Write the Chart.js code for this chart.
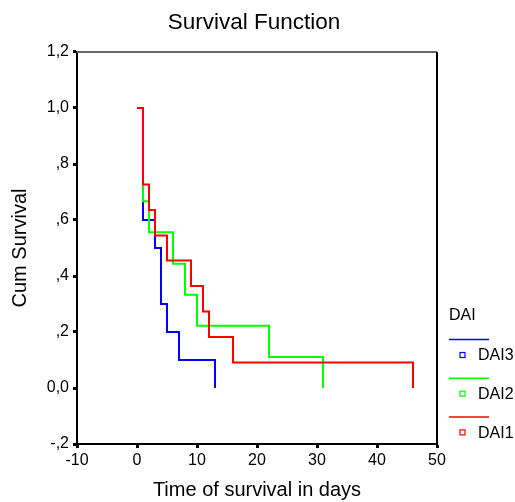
<!DOCTYPE html>
<html>
<head>
<meta charset="utf-8">
<script src="https://cdn.jsdelivr.net/npm/chart.js@4.4.1/dist/chart.umd.min.js"></script>
<style>
    body { margin: 0; background: #fff; }
</style>
</head>
<body>
<canvas id="myChart" width="515" height="502"></canvas>
<script>

// survival curves (time in days, cumulative survival)
var groupNames = ['DAI3', 'DAI2', 'DAI1'];
var groupColors = ['#0000ff', '#00ff00', '#ff0000'];

var timesDAI3 = [0, 1, 3, 4, 5, 7, 13];
var survDAI3 = [1, 0.6, 0.5, 0.3, 0.2, 0.1, 0];

var timesDAI2 = [0, 1, 2, 6, 8, 10, 22, 31];
var survDAI2 = [1, 0.667, 0.556, 0.444, 0.333, 0.222, 0.111, 0];

var timesDAI1 = [0, 1, 2, 3, 5, 9, 11, 12, 16, 46];
var survDAI1 = [1, 0.727, 0.636, 0.545, 0.455, 0.364, 0.273, 0.182, 0.091, 0];

var xTicks = [-10, 0, 10, 20, 30, 40, 50];
var yTicks = ['-,2', '0,0', ',2', ',4', ',6', ',8', '1,0', '1,2'];

function toPoints(times, surv) {
    var pts = [];
    for (var i = 0; i < times.length; i++) {
        pts.push({ x: times[i], y: surv[i] });
    }
    return pts;
}

function yLabel(value) {
    var idx = Math.round((value + 0.2) / 0.2);
    return yTicks[idx] !== undefined ? yTicks[idx] : '';
}

var framePlugin = {
    id: 'frame',
    afterDraw: function (chart) {
        var ctx = chart.ctx;
        var a = chart.chartArea;
        ctx.save();
        ctx.strokeStyle = '#666';
        ctx.lineWidth = 2;
        ctx.beginPath();
        ctx.moveTo(a.left, a.top);
        ctx.lineTo(a.right, a.top);
        ctx.stroke();
        ctx.strokeStyle = '#000';
        ctx.beginPath();
        ctx.moveTo(a.right, a.top);
        ctx.lineTo(a.right, a.bottom);
        ctx.stroke();

        // chart title
        ctx.fillStyle = '#000';
        ctx.font = '22.5px "Liberation Sans", Arial, sans-serif';
        ctx.textAlign = 'center';
        ctx.textBaseline = 'middle';
        ctx.fillText('Survival Function', 254, 23);

        // legend on the right
        var lx = a.right + 12;
        ctx.textAlign = 'left';
        ctx.font = '16px "Liberation Sans", Arial, sans-serif';
        ctx.fillText('DAI', lx, 316);
        for (var i = 0; i < groupNames.length; i++) {
            var ly = 339.5 + i * 38.7;
            ctx.strokeStyle = groupColors[i];
            ctx.lineWidth = 1.5;
            ctx.beginPath();
            ctx.moveTo(lx, ly);
            ctx.lineTo(lx + 40, ly);
            ctx.stroke();
            ctx.lineWidth = 1.2;
            ctx.strokeRect(lx + 11, ly + 13, 5, 5);
            ctx.fillStyle = '#000';
            ctx.fillText(groupNames[i], lx + 29, ly + 16.5);
        }
        ctx.restore();
    }
};

function drawChart() {
    var ctx = document.getElementById('myChart').getContext('2d');

    var seriesList = [
        toPoints(timesDAI3, survDAI3),
        toPoints(timesDAI2, survDAI2),
        toPoints(timesDAI1, survDAI1)
    ];

    var datasets = [];
    for (var i = 0; i < seriesList.length; i++) {
        datasets.push({
            label: groupNames[i],
            data: seriesList[i],
            borderColor: groupColors[i],
            borderWidth: 2,
            pointRadius: 0,
            fill: false,
            stepped: 'before',
            order: 2 - i
        });
    }

    new Chart(ctx, {
        type: 'line',
        data: { datasets: datasets },
        plugins: [framePlugin],
        options: {
            responsive: false,
            animation: false,
            layout: { padding: { top: 52, right: 78, left: 0, bottom: 0 } },
            plugins: {
                legend: { display: false },
                tooltip: { enabled: false }
            },
            scales: {
                x: {
                    type: 'linear',
                    min: -10,
                    max: 50,
                    afterFit: function (scale) { scale.height = 58; },
                    afterBuildTicks: function (scale) {
                        scale.ticks = xTicks.map(function (v) { return { value: v }; });
                    },
                    border: { color: '#000', width: 2 },
                    grid: { drawOnChartArea: false, tickLength: 4, tickWidth: 3, tickColor: '#000' },
                    ticks: {
                        color: '#000',
                        padding: 3,
                        maxRotation: 0,
                        font: { family: '"Liberation Sans", Arial, sans-serif', size: 16 }
                    },
                    title: {
                        display: true,
                        text: 'Time of survival in days',
                        color: '#000',
                        padding: 0,
                        font: { family: '"Liberation Sans", Arial, sans-serif', size: 20 }
                    }
                },
                y: {
                    min: -0.2,
                    max: 1.2,
                    afterFit: function (scale) { scale.width = 77; },
                    afterBuildTicks: function (scale) {
                        var t = [];
                        for (var k = 0; k < yTicks.length; k++) {
                            t.push({ value: -0.2 + k * 0.2 });
                        }
                        scale.ticks = t;
                    },
                    border: { color: '#000', width: 2 },
                    grid: { drawOnChartArea: false, tickLength: 4, tickWidth: 3, tickColor: '#000' },
                    ticks: {
                        color: '#000',
                        padding: 4,
                        font: { family: '"Liberation Sans", Arial, sans-serif', size: 16 },
                        callback: yLabel
                    },
                    title: {
                        display: true,
                        text: 'Cum Survival',
                        color: '#000',
                        padding: { top: 8, bottom: 0 },
                        font: { family: '"Liberation Sans", Arial, sans-serif', size: 20 }
                    }
                }
            }
        }
    });
}

drawChart();
</script>
</body>
</html>
